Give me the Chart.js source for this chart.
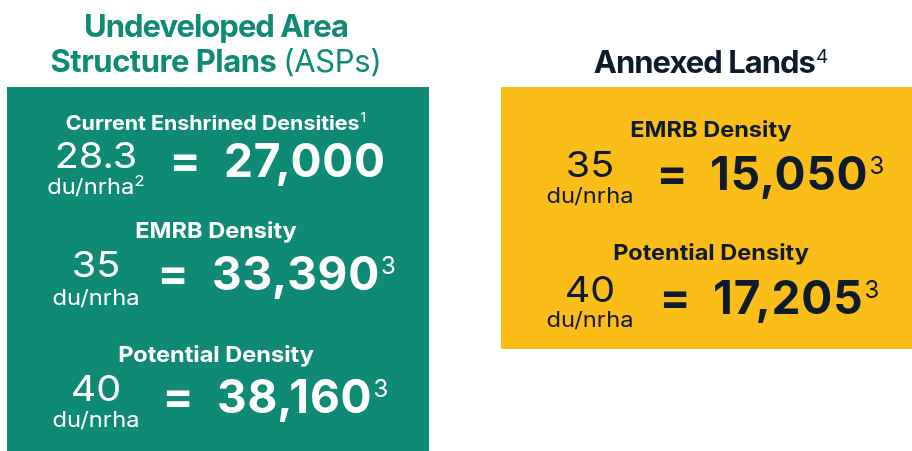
<!DOCTYPE html>
<html>
<head>
<meta charset="utf-8">
<script src="https://cdn.jsdelivr.net/npm/chart.js@4.4.1/dist/chart.umd.min.js"></script>
<style>
  html, body { margin: 0; padding: 0; background: #fff; }
  #wrap { width: 912px; height: 451px; position: relative; }
</style>
</head>
<body>
<div id="wrap"><canvas id="densityChart"></canvas></div>
<script>
// panel data
const panelTitles = [['Undeveloped Area', 'Structure Plans'], ['Annexed Lands']];
const panelTitleSuffix = ['(ASPs)', ''];
const panelTitleNotes = ['', '4'];

const aspLabels = ['Current Enshrined Densities', 'EMRB Density', 'Potential Density'];
const aspLabelNotes = ['1', '', ''];
const aspDensities = ['28.3', '35', '40'];
const aspUnitNotes = ['2', '', ''];
const aspUnits = [27000, 33390, 38160];
const aspUnitFootnotes = ['', '3', '3'];

const annexLabels = ['EMRB Density', 'Potential Density'];
const annexDensities = ['35', '40'];
const annexUnits = [15050, 17205];
const annexUnitFootnotes = ['3', '3'];

const unitLabel = 'du/nrha';

// layout
const GREEN = '#0f8a75';
const YELLOW = '#fbbd17';
const DARK = '#0f1a2b';
const FONT = 'Inter, "Noto Sans", sans-serif';

const panels = [
    { x0: 7, x1: 429, y0: 87, y1: 451, bg: GREEN, fg: '#ffffff', cx: 216,
      titleY: [37, 72], titleColor: GREEN,
      rows: [
          { headY: 130, headSize: 20, numCx: 96, numY: 168, unitY: 194, eqCx: 185, bigX: 224, bigY: 177 },
          { headY: 238, headSize: 22, numCx: 96, numY: 277, unitY: 305, eqCx: 173, bigX: 212, bigY: 290 },
          { headY: 362, headSize: 22, numCx: 96, numY: 401, unitY: 427, eqCx: 178, bigX: 217, bigY: 413 }
      ] },
    { x0: 501, x1: 912, y0: 87, y1: 349, bg: YELLOW, fg: DARK, cx: 711,
      titleY: [73], titleColor: DARK,
      rows: [
          { headY: 137, headSize: 22, numCx: 590, numY: 177, unitY: 203, eqCx: 672, bigX: 710, bigY: 190 },
          { headY: 260, headSize: 22, numCx: 590, numY: 302, unitY: 327, eqCx: 675, bigX: 713, bigY: 314 }
      ] }
];

function font(weight, size) {
    return `${weight} ${size}px ${FONT}`;
}

function setFont(ctx, weight, size, spacing) {
    ctx.font = font(weight, size);
    ctx.letterSpacing = (spacing || 0) + 'px';
}

function drawScaled(ctx, text, x, y, sx) {
    ctx.save();
    ctx.translate(x, y);
    ctx.scale(sx, 1);
    ctx.fillText(text, 0, 0);
    ctx.restore();
}

// text with an optional superscript; sx stretches the glyphs horizontally
function textWithSup(ctx, text, sup, x, y, o) {
    const sx = o.sx || 1;
    setFont(ctx, o.weight, o.size, o.spacing);
    const w = ctx.measureText(text).width * sx;
    setFont(ctx, 400, o.supSize, 0);
    const sw = sup ? ctx.measureText(sup).width * sx + o.gap : 0;
    let left = x;
    if (o.align === 'center') left = x - (w + sw) / 2;
    ctx.textAlign = 'left';
    setFont(ctx, o.weight, o.size, o.spacing);
    drawScaled(ctx, text, left, y, sx);
    if (sup) {
        setFont(ctx, 400, o.supSize, 0);
        drawScaled(ctx, sup, left + w + o.gap, y - o.rise, sx);
    }
}

const infographic = {
    id: 'infographic',
    afterDraw(chart) {
        const ctx = chart.ctx;
        ctx.save();
        ctx.textBaseline = 'alphabetic';

        panels.forEach((p, i) => {
            ctx.fillStyle = p.bg;
            ctx.fillRect(p.x0, p.y0, p.x1 - p.x0, p.y1 - p.y0);

            // title
            ctx.fillStyle = p.titleColor;
            const lines = panelTitles[i];
            lines.forEach((line, j) => {
                const last = j === lines.length - 1;
                if (last && panelTitleSuffix[i]) {
                    setFont(ctx, 700, 31, -0.5);
                    const w1 = ctx.measureText(line + ' ').width;
                    setFont(ctx, 400, 31, -0.3);
                    const w2 = ctx.measureText(panelTitleSuffix[i]).width;
                    const left = p.cx - (w1 + w2) / 2;
                    ctx.textAlign = 'left';
                    setFont(ctx, 700, 31, -0.5);
                    ctx.fillText(line + ' ', left, p.titleY[j]);
                    setFont(ctx, 400, 31, -0.3);
                    ctx.fillText(panelTitleSuffix[i], left + w1, p.titleY[j]);
                } else {
                    textWithSup(ctx, line, last ? panelTitleNotes[i] : '', p.cx, p.titleY[j],
                        { weight: 700, size: 31, spacing: -1, supSize: 19, rise: 10, gap: 1, align: 'center' });
                }
            });

            // rows
            const labels = i === 0 ? aspLabels : annexLabels;
            const notes = i === 0 ? aspLabelNotes : ['', ''];
            const dens = i === 0 ? aspDensities : annexDensities;
            const uNotes = i === 0 ? aspUnitNotes : ['', ''];
            const units = i === 0 ? aspUnits : annexUnits;
            const foot = i === 0 ? aspUnitFootnotes : annexUnitFootnotes;

            ctx.fillStyle = p.fg;
            p.rows.forEach((r, k) => {
                textWithSup(ctx, labels[k], notes[k], p.cx, r.headY,
                    { weight: 700, size: r.headSize, sx: 1.07, supSize: 13, rise: 8, gap: 1, align: 'center' });

                textWithSup(ctx, dens[k], '', r.numCx, r.numY,
                    { weight: 400, size: 36, sx: 1.1, supSize: 14, rise: 0, gap: 0, align: 'center' });
                textWithSup(ctx, unitLabel, uNotes[k], r.numCx, r.unitY,
                    { weight: 400, size: 21, sx: 1.13, supSize: 15, rise: 8, gap: 0, align: 'center' });

                ctx.textAlign = 'center';
                setFont(ctx, 700, 46, 0);
                ctx.fillText('=', r.eqCx, r.bigY - 1);

                textWithSup(ctx, units[k].toLocaleString('en-US'), foot[k], r.bigX, r.bigY,
                    { weight: 700, size: 46, spacing: 0.8, supSize: 24, rise: 16, gap: 1, align: 'left' });
            });
        });
        ctx.restore();
    }
};

new Chart(document.getElementById('densityChart'), {
    type: 'bar',
    data: { labels: [], datasets: [] },
    options: {
        responsive: true,
        maintainAspectRatio: false,
        animation: false,
        events: [],
        plugins: { legend: { display: false }, tooltip: { enabled: false } },
        scales: { x: { display: false }, y: { display: false } }
    },
    plugins: [infographic]
});
</script>
</body>
</html>
